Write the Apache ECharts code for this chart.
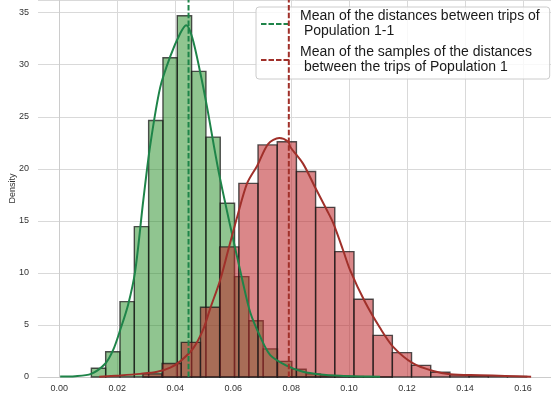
<!DOCTYPE html>
<html><head><meta charset="utf-8">
<script src="https://cdn.jsdelivr.net/npm/echarts@6/dist/echarts.min.js"></script>
<style>html,body{margin:0;padding:0;background:#fff}#c{width:551px;height:398px}</style>
</head><body><div id="c"></div>
<script>
// ---- data ----
const xTicks = [0, 0.02, 0.04, 0.06, 0.08, 0.10, 0.12, 0.14, 0.16];
const yTicks = [0, 5, 10, 15, 20, 25, 30, 35];

const greenBinStart = 0.01107;
const greenBinWidth = 0.004941;
const greenHeights = [0.84, 2.43, 7.24, 14.45, 24.65, 30.67, 34.7, 29.36, 23.05, 16.7, 9.64, 5.4, 2.7, 1.5, 0.74, 0.3, 0.15, 0.1, 0.05, 0.03, 0.02];

const redBinStart = 0.02886;
const redBinWidth = 0.00662;
const redHeights = [0.3, 1.3, 3.33, 6.7, 12.5, 18.6, 22.3, 22.6, 19.75, 16.3, 12.05, 7.47, 4.0, 2.34, 1.12, 0.45, 0.2, 0.1, 0.05, 0.05];

const greenKdeX = [0.0003, 0.0055, 0.011, 0.0159, 0.0186, 0.021, 0.0238, 0.0262, 0.029, 0.0314, 0.0348, 0.0383, 0.0417, 0.0438, 0.0459, 0.0486, 0.051, 0.0548, 0.059, 0.0631, 0.0659, 0.0693, 0.0728, 0.0786, 0.0841, 0.09, 0.0969, 0.1038, 0.1107];
const greenKdeY = [0.05, 0.08, 0.3, 1.3, 2.6, 4.5, 7.0, 10.2, 17.0, 22.3, 27.8, 30.8, 33.0, 33.8, 32.6, 29.3, 25.9, 20.0, 14.5, 9.4, 6.2, 3.9, 2.1, 1.06, 0.5, 0.25, 0.12, 0.06, 0.03];

const redKdeX = [0.0138, 0.021, 0.0279, 0.0338, 0.0383, 0.0417, 0.0462, 0.0497, 0.0521, 0.0555, 0.0583, 0.0614, 0.0648, 0.0683, 0.0721, 0.0759, 0.079, 0.0797, 0.0841, 0.0883, 0.0924, 0.0945, 0.0979, 0.1003, 0.1055, 0.1107, 0.1152, 0.1221, 0.129, 0.1348, 0.1452, 0.1538, 0.1628];
const redKdeY = [0.03, 0.15, 0.3, 0.5, 0.9, 1.5, 2.75, 4.6, 6.6, 9.3, 12.2, 15.4, 18.6, 20.3, 22.4, 22.95, 22.6, 22.1, 20.5, 18.2, 16.0, 14.8, 12.2, 10.3, 7.2, 4.7, 2.9, 1.3, 0.57, 0.26, 0.17, 0.1, 0.03];

const greenMean = 0.0446;
const redMean = 0.0792;
const greenName = 'Mean of the distances between trips of\n Population 1-1';
const redName = 'Mean of the samples of the distances\n between the trips of Population 1';

// ---- build ----
function bins(start, width, heights) {
  return heights.map((h, i) => [start + i * width, start + (i + 1) * width, h]);
}
function pairs(xs, ys) { return xs.map((x, i) => [x, ys[i]]); }

const YMAX = 36.22;
const DASH = [5.5, 2.3];
function histSeries(data, fill, z) {
  return {
    type: 'custom', z: z, silent: true,
    data: data,
    encode: { x: [0, 1], y: 2 },
    renderItem: function (params, api) {
      const p0 = api.coord([api.value(0), api.value(2)]);
      const p1 = api.coord([api.value(1), 0]);
      return {
        type: 'rect',
        shape: { x: p0[0], y: p0[1], width: p1[0] - p0[0], height: p1[1] - p0[1] },
        style: { fill: fill, stroke: 'rgba(25,25,25,0.75)', lineWidth: 1.4 }
      };
    }
  };
}

const dashIcon = 'path://M0,0h5.5v2h-5.5z M7.5,0h5.5v2h-5.5z M15,0h5.5v2h-5.5z M22.5,0h5.5v2h-5.5z';
const font = '"Liberation Sans", Arial, sans-serif';
const chart = echarts.init(document.getElementById('c'), null, { renderer: 'canvas' });
chart.setOption({
  animation: false,
  backgroundColor: '#fff',
  grid: { left: 38, right: 0, top: 0, bottom: 21, containLabel: false, outerBoundsMode: 'none' },
  xAxis: {
    type: 'value', min: -0.00734, max: 0.16966,
    axisLine: { show: true, lineStyle: { color: '#cccccc', width: 1 } },
    axisTick: { show: false, customValues: xTicks },
    axisLabel: { customValues: xTicks, formatter: v => v.toFixed(2), color: '#333', fontSize: 9, fontFamily: font, margin: 7 },
    splitLine: { show: true, customValues: xTicks, lineStyle: { color: '#d9d9d9', width: 1 } }
  },
  yAxis: {
    type: 'value', min: 0, max: YMAX, interval: 5,
    name: 'Density', nameLocation: 'middle', nameGap: 21, nameMoveOverlap: false,
    nameTextStyle: { color: '#333', fontSize: 9, fontFamily: font },
    axisLine: { show: true, lineStyle: { color: '#cccccc', width: 1 } },
    axisTick: { show: false },
    axisLabel: { color: '#333', fontSize: 9, fontFamily: font, margin: 9, showMaxLabel: false },
    splitLine: { show: true, lineStyle: { color: '#d9d9d9', width: 1 } }
  },
  legend: {
    data: [{ name: greenName, icon: dashIcon }, { name: redName, icon: dashIcon }],
    orient: 'vertical', left: 256, top: 7,
    padding: [2, 10, 4, 5], itemGap: 6, itemWidth: 28, itemHeight: 2,
    backgroundColor: 'rgba(255,255,255,0.8)', borderColor: '#cccccc', borderWidth: 1, borderRadius: 3,
    textStyle: { color: '#1a1a1a', fontSize: 14, fontFamily: font, lineHeight: 15, padding: [0, 0, 0, 6] },
    selectedMode: false
  },
  series: [
    histSeries(bins(greenBinStart, greenBinWidth, greenHeights), 'rgba(34,139,34,0.5)', 1),
    histSeries(bins(redBinStart, redBinWidth, redHeights), 'rgba(188,37,40,0.55)', 2),
    { type: 'line', z: 3, data: pairs(greenKdeX, greenKdeY), smooth: 0.3, symbol: 'none', silent: true,
      lineStyle: { color: '#1e8449', width: 2 } },
    { type: 'line', z: 3, data: pairs(redKdeX, redKdeY), smooth: 0.3, symbol: 'none', silent: true,
      lineStyle: { color: '#a0302a', width: 2 } },
    { type: 'line', z: 4, name: greenName, data: [[greenMean, 0], [greenMean, YMAX]], symbol: 'none', silent: true,
      color: '#1e8449', itemStyle: { color: '#1e8449' }, lineStyle: { color: '#1e8449', width: 2, type: DASH } },
    { type: 'line', z: 4, name: redName, data: [[redMean, 0], [redMean, YMAX]], symbol: 'none', silent: true,
      color: '#a0302a', itemStyle: { color: '#a0302a' }, lineStyle: { color: '#a0302a', width: 2, type: DASH } }
  ]
});
</script>
</body></html>
